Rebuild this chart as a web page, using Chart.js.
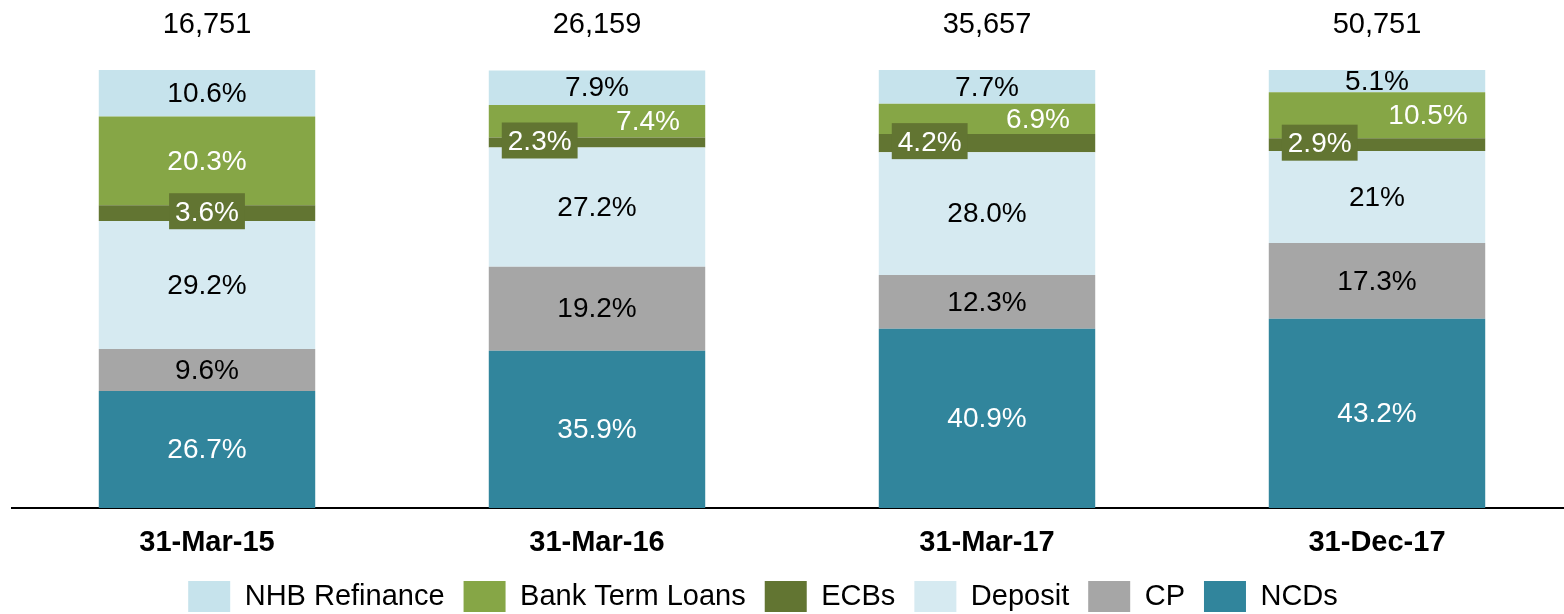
<!DOCTYPE html>
<html>
<head>
<meta charset="utf-8">
<title>Borrowing mix</title>
<script src="https://cdn.jsdelivr.net/npm/chart.js@4.4.1/dist/chart.umd.min.js"></script>
<style>
  html, body { margin: 0; padding: 0; background: #fff; overflow: hidden; }
  canvas { display: block; }
</style>
</head>
<body>
<canvas id="borrowingChart" width="1572" height="614"></canvas>
<script>
// periods and total borrowings
const periods = ["31-Mar-15", "31-Mar-16", "31-Mar-17", "31-Dec-17"];
const totals = ["16,751", "26,159", "35,657", "50,751"];

// share of each source, % (kept as text so labels print as reported)
const ncds = ["26.7", "35.9", "40.9", "43.2"];
const cp = ["9.6", "19.2", "12.3", "17.3"];
const deposit = ["29.2", "27.2", "28.0", "21"];
const ecbs = ["3.6", "2.3", "4.2", "2.9"];
const bankTermLoans = ["20.3", "7.4", "6.9", "10.5"];
const nhbRefinance = ["10.6", "7.9", "7.7", "5.1"];

// thin ECB / term loan slices get their labels pushed apart
const splitLabels = [false, true, true, true];

const FONT = "'Liberation Sans', Arial, sans-serif";

const series = [
  { label: "NCDs", values: ncds, color: "#31859C", text: "#ffffff" },
  { label: "CP", values: cp, color: "#A6A6A6", text: "#000000" },
  { label: "Deposit", values: deposit, color: "#D6EAF1", text: "#000000" },
  { label: "ECBs", values: ecbs, color: "#627532", text: "#ffffff", boxed: true },
  { label: "Bank Term Loans", values: bankTermLoans, color: "#86A646", text: "#ffffff", shiftRight: true },
  { label: "NHB Refinance", values: nhbRefinance, color: "#C6E3EC", text: "#000000" },
];

// percentage labels inside the segments + totals above each bar
const segmentLabels = {
  id: "segmentLabels",
  afterDatasetsDraw(chart) {
    const ctx = chart.ctx;
    ctx.save();
    ctx.textBaseline = "middle";
    ctx.textAlign = "center";
    ctx.font = "28px " + FONT;

    chart.data.datasets.forEach((ds, di) => {
      const s = series[di];
      const meta = chart.getDatasetMeta(di);
      meta.data.forEach((bar, i) => {
        const txt = s.values[i] + "%";
        const cy = (bar.y + bar.base) / 2;
        let cx = bar.x;
        if (s.boxed) {
          const w = ctx.measureText(txt).width + 12;
          const h = 36;
          let left = bar.x - w / 2;
          if (splitLabels[i]) left = bar.x - bar.width / 2 + 13;
          ctx.fillStyle = s.color;
          ctx.fillRect(left, cy - 2 - h / 2, w, h);
          cx = left + w / 2;
          ctx.fillStyle = s.text;
          ctx.fillText(txt, cx, cy);
          return;
        }
        if (s.shiftRight && splitLabels[i]) cx = bar.x + 51;
        ctx.fillStyle = s.text;
        ctx.fillText(txt, cx, cy + 1);
      });
    });

    // totals
    const top = chart.getDatasetMeta(0);
    ctx.fillStyle = "#000";
    ctx.font = "29px " + FONT;
    top.data.forEach((bar, i) => {
      ctx.fillText(totals[i], bar.x, 25);
    });
    ctx.restore();
  },
};

// legend sits a little left of centre
const legendShift = {
  id: "legendShift",
  afterLayout(chart) {
    chart.legend.left -= 29;
    chart.legend.right -= 29;
  },
};

document.addEventListener("DOMContentLoaded", function () {
  const ctx = document.getElementById("borrowingChart");

  const data = {
    labels: periods,
    datasets: series.map((s) => ({
      label: s.label,
      data: s.values.map(Number),
      backgroundColor: s.color,
      borderWidth: 0,
      barPercentage: 0.555,
      categoryPercentage: 1,
    })),
  };

  const config = {
    type: "bar",
    data: data,
    options: {
      responsive: false,
      animation: false,
      layout: {
        padding: { top: 70, left: 12, right: 0, bottom: 0 },
      },
      scales: {
        x: {
          stacked: true,
          grid: { display: false, drawTicks: false },
          border: { display: true, color: "#000", width: 2 },
          ticks: {
            color: "#000",
            padding: 18,
            font: { family: FONT, size: 29, weight: "bold" },
          },
          afterFit(scale) {
            scale.height = 54;
          },
        },
        y: {
          stacked: true,
          display: false,
          min: 0,
          max: 100,
        },
      },
      plugins: {
        legend: {
          position: "bottom",
          reverse: true,
          maxHeight: 52,
          labels: {
            color: "#000",
            boxWidth: 42,
            boxHeight: 31,
            padding: 19,
            font: { family: FONT, size: 29 },
          },
        },
        tooltip: { enabled: false },
      },
    },
    plugins: [segmentLabels, legendShift],
  };

  const borrowingChart = new Chart(ctx, config);
});
</script>
</body>
</html>
